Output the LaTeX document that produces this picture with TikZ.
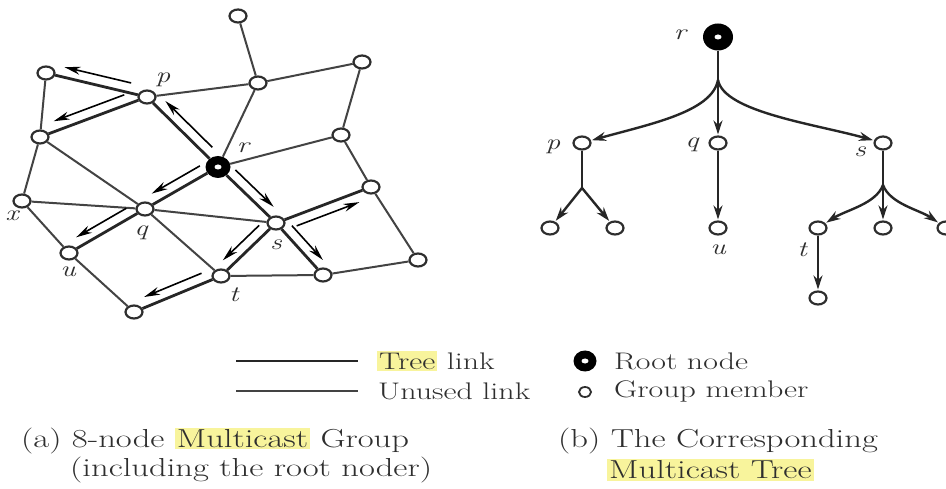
\documentclass[tikz,border=0pt]{standalone}
\usepackage{graphicx}
\usetikzlibrary{calc,arrows.meta,shapes.geometric}
\definecolor{ink}{HTML}{2E2E2E}
\definecolor{hlc}{HTML}{F8F49C}
\newcommand\sxx[1]{\scalebox{1.33}[1]{#1}}
\newcommand\hlw[1]{{\setlength{\fboxsep}{1.5pt}\colorbox{hlc}{#1}}}
\newcommand\treeln[3]{%
  \draw[tlink] (#1) -- (#2);
  \draw[arr] ($(#1)!0.18!(#2)!10pt!#3:(#2)$) -- ($(#1)!0.84!(#2)!10pt!#3:(#2)$);}
\tikzset{
  mem/.style={ellipse, draw=ink, line width=2.2pt, fill=white, minimum width=17pt, minimum height=13pt, inner sep=0pt},
  rootn/.style={ellipse, fill=black, inner sep=0pt,
    path picture={\fill[white] (path picture bounding box.center) ellipse (3.5pt and 2.5pt);}},
  ulink/.style={draw=ink!90, line width=2pt},
  tlink/.style={draw=black!85, line width=2.8pt},
  arr/.style={draw=black, line width=1.6pt, -{Stealth[length=16pt,width=8pt]}},
  tedge/.style={draw=black!85, line width=2.4pt},
  tarr/.style={tedge, -{Stealth[length=14pt,width=9pt]}, shorten >=1pt},
  lab/.style={font=\fontsize{22}{22}\selectfont\itshape, text=ink, inner sep=0pt},
  txt/.style={font=\fontsize{26}{30}\selectfont, text=ink, inner sep=0pt, anchor=west},
  ltxt/.style={font=\fontsize{24}{28}\selectfont, text=ink, inner sep=0pt, anchor=west},
}
\begin{document}
\begin{tikzpicture}[x=1pt,y=-1pt]
\path[use as bounding box, fill=white] (0,0) rectangle (946,489);

% ---------- (a) network ----------
\node[mem] (A) at (238,16) {};
\node[mem] (B) at (258,83) {};
\node[mem] (C) at (362,62) {};
\node[mem] (D) at (46,73) {};
\node[mem] (p) at (147,97) {};
\node[mem] (E) at (40,137) {};
\node[rootn, minimum width=25pt, minimum height=22pt] (r) at (218,167) {};
\node[mem] (F) at (341,135) {};
\node[mem] (G) at (371,187) {};
\node[mem] (x) at (22,201) {};
\node[mem] (q) at (145,209) {};
\node[mem] (s) at (276,223) {};
\node[mem] (u) at (69,253) {};
\node[mem] (I) at (418,260) {};
\node[mem] (H) at (323,275) {};
\node[mem] (t) at (221,276) {};
\node[mem] (J) at (134,312) {};

\foreach \a/\b in {A/B,B/C,C/F,p/B,B/r,r/F,F/G,G/I,I/H,H/t,D/E,E/x,E/q,x/q,x/u,q/s,q/t,u/J}
  \draw[ulink] (\a) -- (\b);

\treeln{p}{D}{-90}
\treeln{p}{E}{-90}
\treeln{r}{p}{-90}
\treeln{r}{q}{-90}
\treeln{r}{s}{90}
\treeln{s}{G}{-90}
\treeln{s}{H}{90}
\treeln{s}{t}{-90}
\treeln{q}{u}{-90}
\treeln{t}{J}{-90}

\node[lab] (lp) at (163,80) {\sxx{p}};
\node[lab] (lr) at (243,148) {\sxx{r}};
\node[lab] (lx) at (12,216) {\sxx{x}};
\node[lab] (lq) at (141,233) {\sxx{q}};
\node[lab] (lu) at (68,272) {\sxx{u}};
\node[lab] (ls) at (276,245) {\sxx{s}};
\node[lab] (lt) at (234,295) {\sxx{t}};

% ---------- (b) tree ----------
\node[rootn, minimum width=30pt, minimum height=27pt] (R) at (718,37) {};
\node[mem] (P) at (582,143) {};
\node[mem] (Q) at (718,143) {};
\node[mem] (S) at (883,143) {};
\node[mem] (P1) at (550,228) {};
\node[mem] (P2) at (615,228) {};
\node[mem] (U) at (718,228) {};
\node[mem] (T) at (818,228) {};
\node[mem] (S2) at (883,228) {};
\node[mem] (S3) at (946,228) {};
\node[mem] (T1) at (818,298) {};
\coordinate (j0) at (718,80);
\coordinate (jp) at (582,188);
\coordinate (js) at (883,185);

\draw[tedge] (R) -- (j0);
\draw[tarr] (j0) .. controls (712,112) and (650,124) .. (P);
\draw[tarr] (j0) -- (Q);
\draw[tarr] (j0) .. controls (724,112) and (815,124) .. (S);
\draw[tedge] (P) -- (jp);
\draw[tarr] (jp) -- (P1);
\draw[tarr] (jp) -- (P2);
\draw[tarr] (Q) -- (U);
\draw[tedge] (S) -- (js);
\draw[tarr] (js) .. controls (876,204) and (846,210) .. (T);
\draw[tarr] (js) -- (S2);
\draw[tarr] (js) .. controls (890,204) and (920,210) .. (S3);
\draw[tarr] (T) -- (T1);

\node[lab] (lR) at (680,35) {\sxx{r}};
\node[lab] (lP) at (553,147) {\sxx{p}};
\node[lab] (lQ) at (692,145) {\sxx{q}};
\node[lab] (lS) at (860,152) {\sxx{s}};
\node[lab] (lU) at (718,250) {\sxx{u}};
\node[lab] (lT) at (802,250) {\sxx{t}};

% ---------- legend ----------
\coordinate (l1a) at (236,361); \coordinate (l1b) at (358,361);
\coordinate (l2a) at (236,391); \coordinate (l2b) at (358,391);
\draw[tlink] (l1a) -- (l1b);
\draw[ulink] (l2a) -- (l2b);
\node[ltxt] (lg1) at (377,361) {\sxx{\hlw{Tree} link}};
\node[ltxt] (lg2) at (378,391) {\sxx{Unused link}};
\node[rootn, minimum width=23pt, minimum height=21pt] (lgr) at (585,361) {};
\node[mem, minimum width=12pt, minimum height=10pt, line width=1.8pt] (lgm) at (585,392) {};
\node[ltxt] (lg3) at (614,361) {\sxx{Root node}};
\node[ltxt] (lg4) at (614,391) {\sxx{Group member}};

% ---------- captions ----------
\node[txt] (ca1) at (21,441) {\sxx{(a) 8-node \hlw{Multicast} Group}};
\node[txt] (ca2) at (70,470) {\sxx{(including the root noder)}};
\node[txt] (cb1) at (558,441) {\sxx{(b) The Corresponding}};
\node[txt] (cb2) at (607,470) {\sxx{\hlw{Multicast Tree}}};
\end{tikzpicture}
\end{document}
